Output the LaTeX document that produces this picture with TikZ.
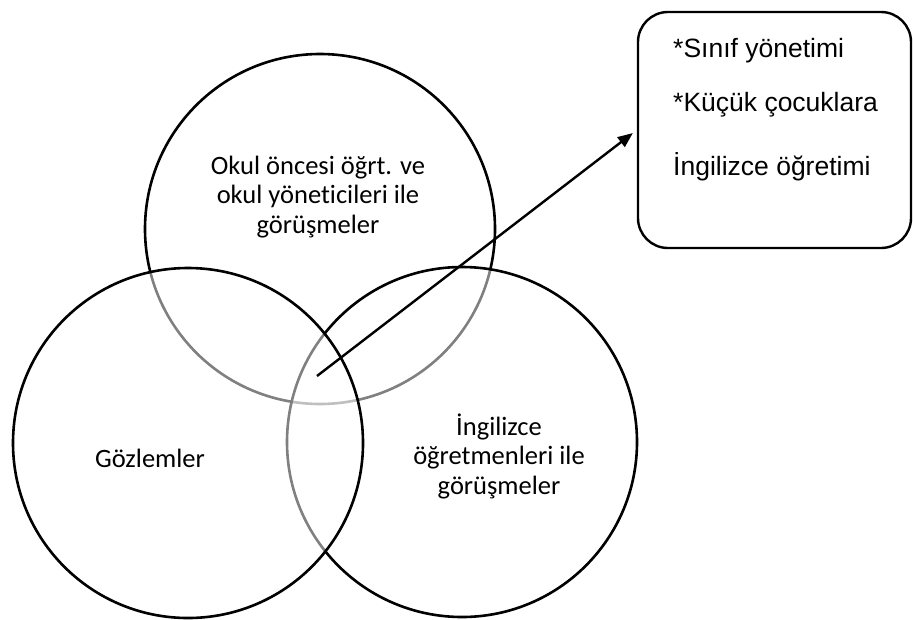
\documentclass[tikz,border=0pt]{standalone}
\usepackage{fontspec}
\setmainfont{Carlito}[Ligatures=NoCommon]
\newfontfamily\boxfont{Liberation Sans}
\usetikzlibrary{arrows.meta,positioning}

\begin{document}
\begin{tikzpicture}[
    x=1pt,
    y=-1pt,
    venn/.style={circle, draw, line width=2.6pt, minimum size=350pt, inner sep=0pt},
    veil/.style={fill=white, fill opacity=0.5},
    ctxt/.style={font=\fontsize{26.5}{29.5}\selectfont, align=center, inner sep=0pt},
    btxt/.style={font=\boxfont\fontsize{26.5}{30}\selectfont, anchor=base west, inner sep=0pt}
]
\useasboundingbox (0,0) rectangle (913,619);

\node[venn] (okul) at (320,229) {};
\node[venn,veil] (ing) at (462,442) {};
\node[venn,veil] (goz) at (188,443) {};

\node[ctxt] (okultxt) at (318,197) {Okul öncesi öğrt. ve\\okul yöneticileri ile\\görüşmeler};
\node[ctxt] (goztxt) at (150,458) {Gözlemler};
\node[ctxt] (ingtxt) at (499,456) {İngilizce\\öğretmenleri ile\\görüşmeler};

\node[draw, line width=2.4pt, rounded corners=30pt, minimum width=273pt, minimum height=236pt] (konu) at (774.5,130) {};
\node[btxt] (k1) at (673,57) {*Sınıf yönetimi};
\node[btxt] (k2) at (673,111) {*Küçük çocuklara};
\node[btxt] (k3) at (673,175) {İngilizce öğretimi};

\coordinate (kesisim) at (317,376);
\draw[line width=2.4pt, -{Triangle[length=15pt,width=12pt]}, shorten >=5pt] (kesisim) -- (konu.west);
\end{tikzpicture}
\end{document}
